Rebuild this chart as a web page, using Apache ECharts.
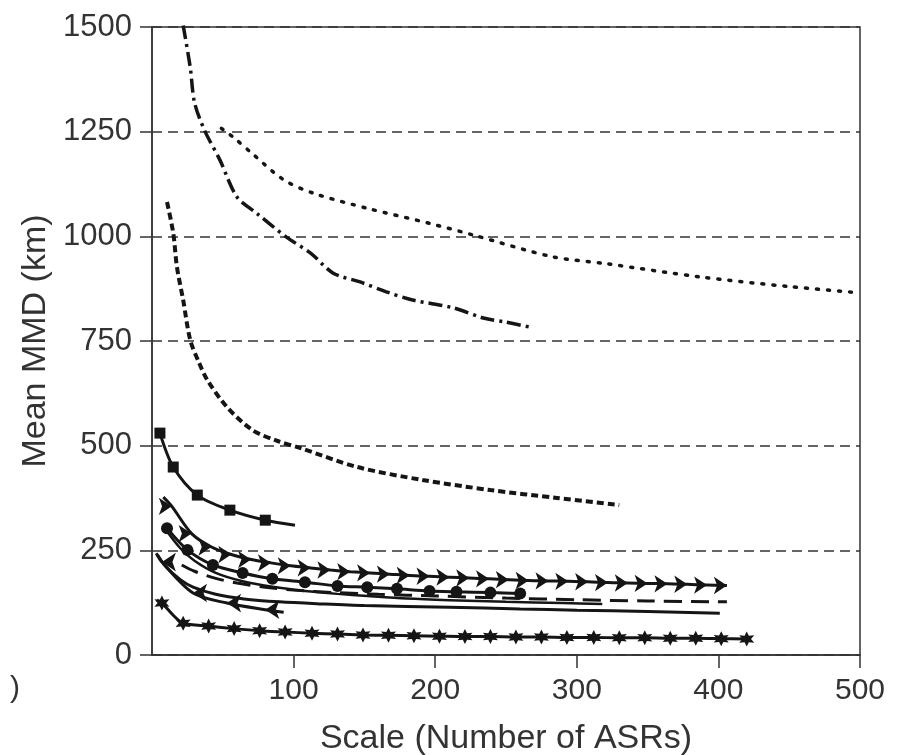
<!DOCTYPE html>
<html>
<head>
<meta charset="utf-8">
<script src="https://cdn.jsdelivr.net/npm/echarts@6/dist/echarts.min.js"></script>
<style>
  html, body { margin: 0; padding: 0; background: #fff; }
  #chart { width: 900px; height: 755px; }
</style>
</head>
<body>
<div id="chart"></div>
<script>
// tick labels
const xTicks = [0, 100, 200, 300, 400, 500];
const yTicks = [0, 250, 500, 750, 1000, 1250, 1500];

// series values, [scale, mean MMD]
const dashDotLine = [[22, 1504], [27, 1404], [30, 1320], [37, 1254], [48, 1182], [60, 1094], [74, 1055], [95, 998], [112, 960], [128, 912], [147, 891], [165, 868], [184, 848], [213, 829], [234, 805], [250, 795], [267, 783]];
const dottedLine = [[49, 1258], [58, 1235], [70, 1200], [93, 1135], [114, 1103], [152, 1067], [196, 1031], [227, 1003], [283, 951], [320, 935], [387, 903], [450, 880], [500, 865]];
const shortDashLine = [[10.6, 1082], [15, 1008], [17.6, 927], [22, 848], [27, 752], [33, 700], [39, 657], [53, 592], [71, 537], [88, 512], [105, 494], [145, 449], [191, 418], [239, 394], [286, 375], [330, 358]];
const squareLine = [[5.6, 530], [15, 449], [32, 382], [55, 346], [80, 322], [101, 310]];
const rightArrowLine = [[8, 377], [14, 355], [28, 290], [42, 258], [56, 240], [70, 228], [84, 220], [98, 213], [112, 208], [126, 203], [140, 199], [154, 196], [168, 193], [182, 190], [196, 188], [210, 186], [224, 184], [238, 182], [252, 180], [266, 178], [280, 177], [294, 176], [308, 175], [322, 173], [336, 172], [350, 171], [364, 170], [378, 169], [392, 167], [406, 166]];
const circleLine = [[10.6, 303], [25, 251], [43, 215], [64, 196], [85, 182], [108, 174], [131, 165], [152, 162], [173, 158], [196, 153], [215, 151], [239, 149], [260, 147]];
const longDashLine = [[21, 215], [30, 200], [45, 183], [60, 172], [80, 162], [100, 155], [130, 149], [160, 145], [200, 141], [250, 136], [300, 132], [350, 129], [406, 127]];
const tickLine = [[10, 298], [20, 255], [30, 225], [45, 196], [64, 176], [85, 163], [108, 153], [131, 146], [152, 141], [180, 135], [210, 131], [250, 127], [290, 124], [318, 122]];
const plainLine = [[4, 239], [10, 210], [20, 180], [29, 162], [45, 145], [65, 134], [90, 127], [120, 122], [150, 118], [210, 114], [260, 110], [300, 107], [350, 104], [401, 100]];
const leftArrowLine = [[3, 243], [7, 222], [29, 148], [53, 124], [80, 108], [93, 102]];
const starLine = [[3.5, 131], [7, 124], [15, 95], [22, 76], [40, 69], [58, 63], [76, 58], [94, 55], [113, 52], [131, 50], [149, 48], [167, 47], [185, 46], [203, 45], [221, 44], [239, 44], [257, 43], [275, 43], [293, 42], [312, 42], [330, 41], [348, 41], [366, 40], [384, 40], [402, 39], [420, 38]];

const ink = '#151515';
const axisInk = '#333';
const font = "'Liberation Sans', Arial, sans-serif";
const starPath = 'path://M0,-10 L2.5,-4.3 L8.7,-5 L5,0 L8.7,5 L2.5,4.3 L0,10 L-2.5,4.3 L-8.7,5 L-5,0 L-8.7,-5 L-2.5,-4.3 Z';

function makeLine(data, opts) {
    const o = opts || {};
    // markers only where noMark does not list the index
    const noMark = o.noMark || [];
    return {
        type: 'line',
        smooth: o.smooth === undefined ? 0.3 : o.smooth,
        symbol: o.symbol || 'none',
        symbolSize: o.size || 10,
        symbolRotate: o.rotate || 0,
        showSymbol: !!o.symbol,
        silent: true,
        animation: false,
        itemStyle: { color: ink },
        lineStyle: { color: ink, width: o.width || 3, type: o.type || 'solid', cap: o.cap || 'butt' },
        data: data.map((p, i) => noMark.indexOf(i) >= 0 ? { value: p, symbol: 'none' } : p)
    };
}

const myChart = echarts.init(document.getElementById('chart'));

const option = {
    backgroundColor: '#fff',
    grid: {
        left: 152,
        right: 40,
        top: 27,
        bottom: 100,
        outerBoundsMode: 'none',
        containLabel: false,
        show: true,
        borderColor: axisInk,
        borderWidth: 1.5
    },
    graphic: [{
        type: 'text',
        left: 10,
        top: 674,
        style: { text: ')', font: '30px ' + font, fill: axisInk }
    }],
    xAxis: {
        type: 'value',
        min: xTicks[0],
        max: xTicks[xTicks.length - 1],
        interval: 100,
        name: 'Scale (Number of ASRs)',
        nameLocation: 'middle',
        nameGap: 67,
        nameTextStyle: { fontSize: 34, color: axisInk, fontFamily: font },
        axisLine: { onZero: false, lineStyle: { color: axisInk, width: 1.5 } },
        axisTick: { show: true, length: 13, lineStyle: { color: axisInk, width: 1.5 } },
        axisLabel: { showMinLabel: false, margin: 21, fontSize: 30, color: axisInk, fontFamily: font },
        splitLine: { show: false }
    },
    yAxis: {
        type: 'value',
        min: yTicks[0],
        max: yTicks[yTicks.length - 1],
        interval: 250,
        name: 'Mean MMD (km)',
        nameLocation: 'middle',
        nameGap: 84,
        nameTextStyle: { fontSize: 34, color: axisInk, fontFamily: font },
        axisLine: { show: true, lineStyle: { color: axisInk, width: 1.5 } },
        axisTick: { show: true, length: 12, lineStyle: { color: axisInk, width: 1.5 } },
        axisLabel: { margin: 20, fontSize: 31, color: axisInk, fontFamily: font, formatter: v => String(v) },
        splitLine: { show: true, lineStyle: { color: axisInk, width: 1.5, type: [10, 6] } }
    },
    series: [
        makeLine(dashDotLine, { type: [14, 5, 3, 5], width: 3.5 }),
        makeLine(dottedLine, { type: [2, 9], width: 3.5, cap: 'round' }),
        makeLine(shortDashLine, { type: [7, 4], width: 4 }),
        makeLine(squareLine, { symbol: 'rect', size: 11, noMark: [5], width: 3 }),
        makeLine(rightArrowLine, { symbol: 'arrow', size: 13, rotate: -90, noMark: [0] }),
        makeLine(circleLine, { symbol: 'circle', size: 12 }),
        makeLine(longDashLine, { type: [18, 9], width: 3 }),
        makeLine(tickLine, { width: 2.5 }),
        makeLine(plainLine, { width: 3 }),
        makeLine(leftArrowLine, { symbol: 'arrow', size: 14, rotate: 90, noMark: [0, 5] }),
        makeLine(starLine, { symbol: starPath, size: 15, noMark: [0, 2] })
    ]
};

myChart.setOption(option);
</script>
</body>
</html>
